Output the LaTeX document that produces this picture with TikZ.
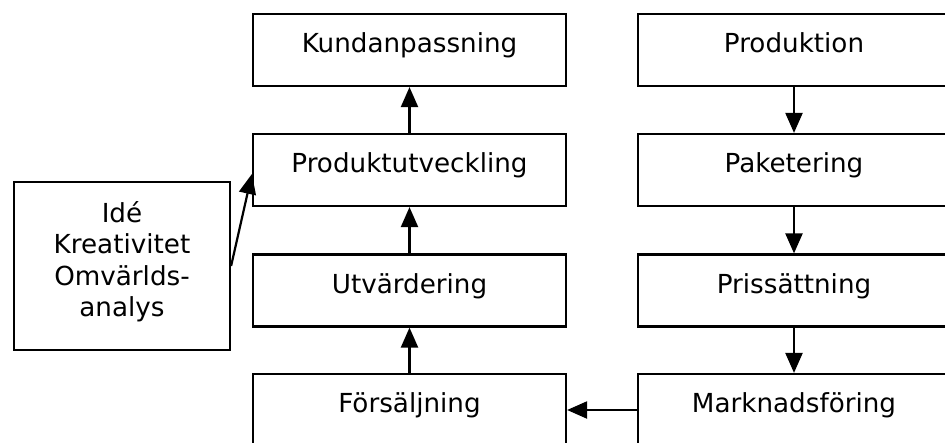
\documentclass[tikz,border=0pt]{standalone}
\usepackage{fontspec}
\setmainfont{DejaVu Sans}
\usetikzlibrary{arrows.meta}
\begin{document}
\begin{tikzpicture}[x=1pt,y=-1pt,
  box/.style={draw, line width=2.2pt, minimum width=313pt, minimum height=72pt, inner sep=0pt,
    text height=20pt, text depth=15pt, font=\fontsize{26.2}{31.5}\selectfont},
  conn/.style={line width=2.2pt, -{Triangle[length=20pt,width=17pt]}}]
\useasboundingbox (0,0) rectangle (945,442);
\clip (0,0) rectangle (945,442);
% left column
\node[box] (kund) at (409.5,50) {Kundanpassning};
\node[box] (pu)   at (409.5,170) {Produktutveckling};
\node[box] (utv)  at (409.5,290.5) {Utvärdering};
\node[box] (fors) at (409.5,410) {Försäljning};
% right column
\node[box, minimum width=312pt] (prod) at (794,50) {Produktion};
\node[box, minimum width=312pt] (pak)  at (794,170) {Paketering};
\node[box, minimum width=312pt] (pris) at (794,290.5) {Prissättning};
\node[box, minimum width=312pt] (mark) at (794,410) {Marknadsföring};
% idea box
\node[draw, line width=2.2pt, minimum width=216pt, minimum height=168pt, inner sep=0pt] (ide) at (122,266) {};
\node[align=center, inner sep=0pt, font=\fontsize{26.2}{31.5}\selectfont] (idetxt) at (122,261.5) {Idé\\Kreativitet\\Omvärlds-\\analys};
% connectors
\draw[conn] (pu) -- (kund);
\draw[conn] (utv) -- (pu);
\draw[conn] (fors) -- (utv);
\draw[conn] (prod) -- (pak);
\draw[conn] (pak) -- (pris);
\draw[conn] (pris) -- (mark);
\draw[conn] (mark.west) -- (fors.east);
\draw[conn] (ide.east) -- ([yshift=-4pt]pu.west);
\end{tikzpicture}
\end{document}
